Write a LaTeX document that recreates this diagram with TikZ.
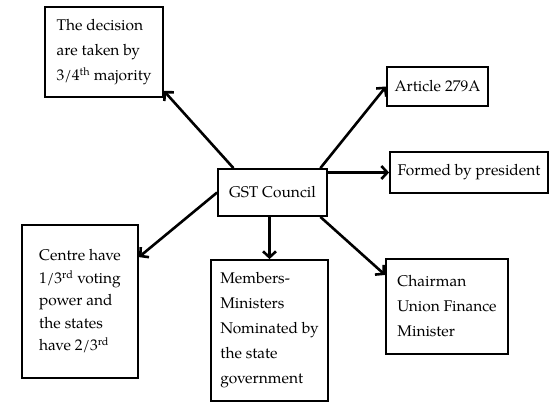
\documentclass[tikz,border=0pt]{standalone}
\usepackage{fontspec}
\setmainfont{TeX Gyre Pagella}
\usetikzlibrary{arrows.meta}
\tikzset{
	box/.style={draw=black, line width=1.8pt, align=left, font=\fontsize{15.5}{25}\selectfont},
}
\begin{document}
\begin{tikzpicture}[x=1pt, y=-1pt, line width=2.6pt, >={Straight Barb[length=6pt,width=13pt]}]
	\useasboundingbox (0,0) rectangle (555,403);
	\node[box, minimum width=109pt, minimum height=47pt] (gst) at (272.5,192.5) {GST Council};
	\node[box, minimum width=118pt, minimum height=90pt] (dec) at (104,52) {The decision\\ are taken by\\ 3/4\textsuperscript{th} majority};
	\node[box, minimum width=101pt, minimum height=39pt] (art) at (437.5,86.5) {Article 279A};
	\node[box, minimum width=158pt, minimum height=41pt] (frm) at (469,172.5) {Formed by president};
	\node[box, minimum width=116pt, minimum height=153pt, font=\fontsize{15.5}{22.5}\selectfont] (ctr) at (80,301.5) {Centre have\\ 1/3\textsuperscript{rd} voting\\ power and\\ the states\\ have 2/3\textsuperscript{rd}};
	\node[box, minimum width=117pt, minimum height=141pt] (mem) at (269.5,330.5) {Members-\\ Ministers\\ Nominated by\\ the state\\ government};
	\node[box, minimum width=122pt, minimum height=95pt] (chr) at (447,306.5) {Chairman\\ Union Finance\\ Minister};
	\draw[->] (gst.148) -- (dec.-33);
	\draw[->] (gst.27) -- (art.west);
	\draw[->] (gst.east |- frm.west) -- (frm.west);
	\draw[->] (gst.west) -- (ctr.37);
	\draw[->] (gst.south -| mem.north) -- (mem.north);
	\draw[->] (gst.-27) -- (chr.153);
\end{tikzpicture}
\end{document}
